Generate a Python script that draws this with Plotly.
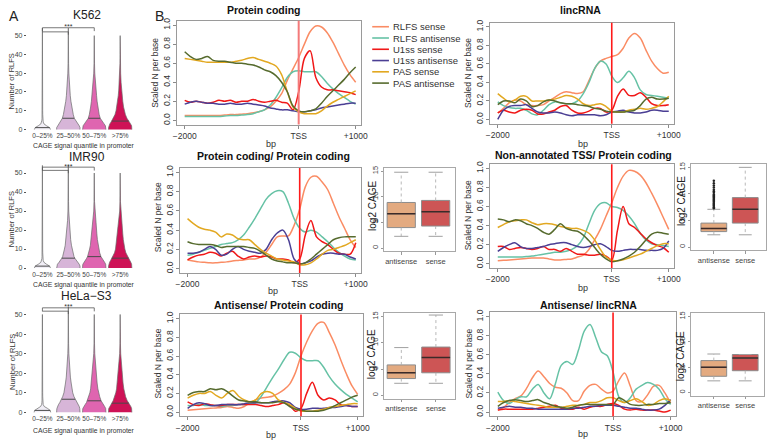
import plotly.graph_objects as go
import numpy as np

W, H = 774, 445
FONT = "Liberation Sans, Arial, Helvetica, sans-serif"


def fx(p):
    return p / W


def fy(p):
    return 1 - p / H


# ---------------- Panel A data (violin half-width profiles) ----------------
CELL_LINES = ["K562", "IMR90", "HeLa−S3"]
QUANTILES = ["0–25%", "25–50%", "50–75%", ">75%"]
VIOLIN_COLORS = ["#F1EEF6", "#D7B5D8", "#DF65B0", "#CE1256"]
VY = [0, 1, 2, 3, 4, 5, 6, 8, 10, 12, 15, 18, 21, 25, 30, 35, 40, 45, 50, 54]

k562_w = [
    [0.31, 0.28, 0.16, 0.06, 0.03, 0.02, 0.015, 0.012, 0.01, 0.01, 0.009, 0.008, 0.008, 0.007, 0.007, 0.006, 0.006, 0.005, 0.005, 0],
    [0.45, 0.45, 0.42, 0.37, 0.32, 0.27, 0.23, 0.19, 0.16, 0.13, 0.1, 0.075, 0.055, 0.035, 0.02, 0.01, 0.007, 0.005, 0.004, 0],
    [0.45, 0.45, 0.43, 0.38, 0.33, 0.27, 0.23, 0.19, 0.16, 0.14, 0.11, 0.09, 0.07, 0.045, 0.02, 0.01, 0.007, 0.004, 0, 0],
    [0.45, 0.45, 0.44, 0.4, 0.35, 0.3, 0.26, 0.2, 0.16, 0.13, 0.1, 0.075, 0.055, 0.035, 0.018, 0.01, 0.006, 0.003, 0, 0],
]
imr90_w = [
    [0.31, 0.28, 0.16, 0.06, 0.03, 0.02, 0.015, 0.012, 0.01, 0.01, 0.009, 0.008, 0.008, 0.007, 0.007, 0.006, 0.006, 0.005, 0.004, 0],
    [0.45, 0.45, 0.42, 0.36, 0.3, 0.26, 0.22, 0.18, 0.15, 0.12, 0.09, 0.07, 0.05, 0.03, 0.015, 0.008, 0.006, 0.005, 0.004, 0],
    [0.45, 0.45, 0.44, 0.4, 0.35, 0.3, 0.26, 0.21, 0.18, 0.15, 0.12, 0.1, 0.08, 0.05, 0.02, 0.01, 0.007, 0.004, 0, 0],
    [0.45, 0.45, 0.44, 0.41, 0.37, 0.33, 0.28, 0.22, 0.18, 0.15, 0.12, 0.1, 0.08, 0.06, 0.02, 0.01, 0.006, 0.004, 0, 0],
]
hela_w = [
    [0.32, 0.3, 0.2, 0.07, 0.03, 0.02, 0.015, 0.012, 0.01, 0.01, 0.009, 0.008, 0.008, 0.007, 0.007, 0.006, 0.006, 0.005, 0, 0],
    [0.45, 0.45, 0.44, 0.42, 0.38, 0.33, 0.28, 0.22, 0.17, 0.14, 0.11, 0.08, 0.06, 0.04, 0.02, 0.01, 0.007, 0.005, 0.004, 0],
    [0.45, 0.45, 0.44, 0.4, 0.35, 0.3, 0.26, 0.21, 0.17, 0.14, 0.11, 0.09, 0.07, 0.05, 0.02, 0.01, 0.006, 0.003, 0, 0],
    [0.45, 0.45, 0.44, 0.41, 0.36, 0.31, 0.27, 0.21, 0.17, 0.14, 0.11, 0.09, 0.07, 0.05, 0.02, 0.01, 0.006, 0.002, 0, 0],
]
k562_med = [1.0, 6.0, 6.0, 4.5]
imr90_med = [1.0, 5.2, 6.0, 5.2]
hela_med = [1.0, 6.7, 5.9, 4.7]
SIG_TOP = [54.2, 53.1, 53.4]
SIG_LOW = [52.0, 51.4, 51.7]
SIG_STAR = [54.5, 53.2, 53.5]

# ---------------- Panel B data (metaprofiles) ----------------
BP = list(range(-2000, 1001, 100))
SERIES = ["RLFS sense", "RLFS antisense", "U1ss sense", "U1ss antisense", "PAS sense", "PAS antisense"]
COLORS = ["#FA8C64", "#66C2A5", "#F01818", "#4B3F94", "#E2A821", "#566B2E"]
X_TICKS = [-2000, 0, 1000]
X_TICKTEXT = ["−2000", "TSS", "+1000"]

# Protein coding
p1_rlfs_s = [0.05, 0.05, 0.05, 0.05, 0.05, 0.05, 0.05, 0.055, 0.06, 0.06, 0.065, 0.07, 0.08, 0.09, 0.11, 0.14, 0.2, 0.28, 0.42, 0.54, 0.66, 0.80, 0.93, 0.99, 0.98, 0.92, 0.82, 0.70, 0.58, 0.48, 0.40]
p1_rlfs_a = [0.04, 0.04, 0.04, 0.04, 0.04, 0.04, 0.04, 0.045, 0.05, 0.05, 0.055, 0.06, 0.07, 0.09, 0.11, 0.16, 0.24, 0.34, 0.45, 0.51, 0.52, 0.51, 0.51, 0.51, 0.46, 0.39, 0.33, 0.28, 0.24, 0.20, 0.17]
p1_u1_s = [0.21, 0.19, 0.2, 0.19, 0.18, 0.19, 0.21, 0.2, 0.21, 0.19, 0.2, 0.2, 0.22, 0.2, 0.19, 0.2, 0.21, 0.19, 0.18, 0.11, 0.3, 0.65, 0.73, 0.45, 0.35, 0.32, 0.32, 0.31, 0.3, 0.29, 0.27]
p1_u1_a = [0.17, 0.19, 0.2, 0.19, 0.18, 0.18, 0.17, 0.17, 0.18, 0.17, 0.17, 0.18, 0.17, 0.16, 0.15, 0.13, 0.12, 0.11, 0.11, 0.1, 0.09, 0.09, 0.1, 0.11, 0.13, 0.14, 0.15, 0.16, 0.17, 0.18, 0.18]
p1_pas_s = [0.65, 0.64, 0.63, 0.62, 0.61, 0.61, 0.61, 0.61, 0.61, 0.62, 0.63, 0.65, 0.66, 0.64, 0.62, 0.6, 0.57, 0.48, 0.3, 0.14, 0.09, 0.07, 0.07, 0.07, 0.1, 0.15, 0.19, 0.22, 0.25, 0.28, 0.31]
p1_pas_a = [0.72, 0.67, 0.64, 0.65, 0.67, 0.63, 0.62, 0.62, 0.61, 0.6, 0.6, 0.59, 0.58, 0.56, 0.53, 0.51, 0.47, 0.4, 0.3, 0.15, 0.1, 0.09, 0.1, 0.12, 0.18, 0.25, 0.31, 0.37, 0.43, 0.5, 0.56]

# lincRNA
p2_rlfs_s = [0.07, 0.12, 0.18, 0.21, 0.2, 0.16, 0.15, 0.15, 0.16, 0.2, 0.24, 0.28, 0.3, 0.29, 0.28, 0.3, 0.42, 0.55, 0.63, 0.66, 0.68, 0.7, 0.77, 0.88, 0.93, 0.88, 0.75, 0.63, 0.55, 0.5, 0.51]
p2_rlfs_a = [0.19, 0.15, 0.13, 0.12, 0.12, 0.1, 0.06, 0.05, 0.1, 0.16, 0.19, 0.18, 0.17, 0.17, 0.2, 0.28, 0.4, 0.55, 0.63, 0.6, 0.47, 0.4, 0.45, 0.52, 0.45, 0.32, 0.27, 0.26, 0.25, 0.24, 0.23]
p2_u1_s = [0.07, 0.1, 0.08, 0.07, 0.1, 0.11, 0.1, 0.06, 0.06, 0.08, 0.1, 0.14, 0.15, 0.1, 0.07, 0.07, 0.09, 0.12, 0.12, 0.08, 0.1, 0.25, 0.33, 0.26, 0.26, 0.29, 0.24, 0.17, 0.15, 0.15, 0.16]
p2_u1_a = [0.0, 0.1, 0.14, 0.15, 0.15, 0.16, 0.12, 0.08, 0.07, 0.07, 0.08, 0.07, 0.05, 0.04, 0.05, 0.05, 0.05, 0.05, 0.04, 0.05, 0.08, 0.09, 0.1, 0.08, 0.07, 0.07, 0.08, 0.1, 0.1, 0.09, 0.09]
p2_pas_s = [0.28, 0.23, 0.19, 0.21, 0.25, 0.25, 0.2, 0.2, 0.2, 0.21, 0.22, 0.24, 0.26, 0.25, 0.22, 0.17, 0.15, 0.16, 0.17, 0.14, 0.09, 0.08, 0.08, 0.1, 0.11, 0.12, 0.11, 0.12, 0.14, 0.19, 0.25]
p2_pas_a = [0.16, 0.2, 0.2, 0.18, 0.22, 0.2, 0.14, 0.15, 0.19, 0.21, 0.2, 0.18, 0.17, 0.17, 0.16, 0.15, 0.14, 0.12, 0.11, 0.09, 0.08, 0.08, 0.08, 0.09, 0.1, 0.15, 0.22, 0.24, 0.22, 0.22, 0.23]

# Protein coding / Protein coding
p3_rlfs_s = [0.09, 0.08, 0.07, 0.065, 0.06, 0.06, 0.065, 0.07, 0.08, 0.085, 0.09, 0.1, 0.1, 0.12, 0.17, 0.25, 0.33, 0.34, 0.34, 0.45, 0.62, 0.85, 0.95, 0.96, 0.9, 0.82, 0.68, 0.54, 0.42, 0.3, 0.22]
p3_rlfs_a = [0.14, 0.15, 0.17, 0.19, 0.21, 0.23, 0.25, 0.26, 0.27, 0.3, 0.35, 0.43, 0.52, 0.62, 0.72, 0.78, 0.81, 0.8, 0.68, 0.52, 0.42, 0.38, 0.4, 0.38, 0.33, 0.28, 0.22, 0.17, 0.13, 0.1, 0.09]
p3_u1_s = [0.09, 0.12, 0.14, 0.15, 0.17, 0.16, 0.13, 0.16, 0.18, 0.13, 0.1, 0.12, 0.13, 0.12, 0.13, 0.12, 0.1, 0.1, 0.09, 0.06, 0.1, 0.35, 0.5, 0.33, 0.28, 0.25, 0.2, 0.16, 0.15, 0.15, 0.27]
p3_u1_a = [0.16, 0.16, 0.17, 0.2, 0.23, 0.2, 0.14, 0.15, 0.2, 0.23, 0.2, 0.18, 0.17, 0.16, 0.2, 0.3, 0.37, 0.4, 0.3, 0.1, 0.05, 0.06, 0.08, 0.12, 0.15, 0.16, 0.16, 0.15, 0.15, 0.12, 0.1]
p3_pas_s = [0.52, 0.47, 0.43, 0.41, 0.4, 0.38, 0.33, 0.36, 0.35, 0.31, 0.3, 0.3, 0.25, 0.2, 0.16, 0.13, 0.1, 0.09, 0.08, 0.07, 0.04, 0.04, 0.06, 0.1, 0.15, 0.19, 0.2, 0.22, 0.24, 0.27, 0.3]
p3_pas_a = [0.28, 0.26, 0.25, 0.25, 0.25, 0.24, 0.22, 0.23, 0.23, 0.23, 0.23, 0.22, 0.21, 0.18, 0.14, 0.1, 0.08, 0.07, 0.06, 0.06, 0.05, 0.06, 0.1, 0.15, 0.2, 0.25, 0.3, 0.32, 0.33, 0.33, 0.33]

# Non-annotated TSS / Protein coding
p4_rlfs_s = [0.03, 0.035, 0.04, 0.045, 0.05, 0.055, 0.06, 0.06, 0.06, 0.05, 0.04, 0.04, 0.045, 0.05, 0.07, 0.09, 0.15, 0.25, 0.36, 0.5, 0.64, 0.8, 0.92, 0.98, 0.97, 0.93, 0.85, 0.74, 0.62, 0.49, 0.36]
p4_rlfs_a = [0.07, 0.07, 0.07, 0.07, 0.07, 0.075, 0.08, 0.09, 0.1, 0.11, 0.12, 0.12, 0.13, 0.15, 0.19, 0.27, 0.42, 0.56, 0.63, 0.64, 0.6, 0.59, 0.56, 0.5, 0.42, 0.32, 0.25, 0.21, 0.2, 0.19, 0.18]
p4_u1_s = [0.18, 0.18, 0.15, 0.16, 0.17, 0.16, 0.15, 0.16, 0.18, 0.15, 0.15, 0.13, 0.16, 0.13, 0.1, 0.1, 0.09, 0.09, 0.1, 0.08, 0.04, 0.35, 0.6, 0.42, 0.38, 0.32, 0.26, 0.22, 0.19, 0.17, 0.12]
p4_u1_a = [0.13, 0.17, 0.2, 0.22, 0.18, 0.16, 0.16, 0.17, 0.18, 0.2, 0.21, 0.22, 0.22, 0.2, 0.18, 0.17, 0.18, 0.2, 0.21, 0.18, 0.14, 0.13, 0.14, 0.15, 0.15, 0.15, 0.14, 0.14, 0.14, 0.16, 0.24]
p4_pas_s = [0.38, 0.41, 0.44, 0.45, 0.46, 0.46, 0.43, 0.41, 0.42, 0.42, 0.41, 0.39, 0.38, 0.37, 0.37, 0.35, 0.32, 0.25, 0.15, 0.07, 0.04, 0.03, 0.04, 0.06, 0.08, 0.1, 0.13, 0.16, 0.19, 0.21, 0.21]
p4_pas_a = [0.47, 0.46, 0.44, 0.46, 0.45, 0.42, 0.4, 0.37, 0.33, 0.31, 0.36, 0.42, 0.37, 0.35, 0.34, 0.3, 0.24, 0.17, 0.1, 0.05, 0.02, 0.03, 0.05, 0.08, 0.12, 0.18, 0.25, 0.31, 0.33, 0.32, 0.31]

# Antisense / Protein coding
p5_rlfs_s = [0.02, 0.025, 0.03, 0.035, 0.04, 0.045, 0.05, 0.06, 0.05, 0.04, 0.06, 0.1, 0.13, 0.15, 0.16, 0.17, 0.2, 0.24, 0.3, 0.42, 0.6, 0.75, 0.87, 0.95, 0.96, 0.85, 0.72, 0.56, 0.41, 0.28, 0.19]
p5_rlfs_a = [0.07, 0.07, 0.08, 0.07, 0.07, 0.07, 0.06, 0.07, 0.07, 0.08, 0.08, 0.09, 0.1, 0.17, 0.27, 0.37, 0.46, 0.56, 0.64, 0.63, 0.58, 0.55, 0.55, 0.55, 0.48, 0.38, 0.3, 0.24, 0.19, 0.15, 0.11]
p5_u1_s = [0.11, 0.08, 0.07, 0.09, 0.08, 0.07, 0.07, 0.08, 0.08, 0.08, 0.08, 0.08, 0.08, 0.07, 0.06, 0.07, 0.08, 0.1, 0.07, 0.01, 0.04, 0.2, 0.32, 0.18, 0.13, 0.15, 0.13, 0.08, 0.07, 0.06, 0.06]
p5_u1_a = [0.04, 0.08, 0.1, 0.09, 0.07, 0.07, 0.08, 0.08, 0.08, 0.08, 0.09, 0.1, 0.1, 0.1, 0.1, 0.11, 0.12, 0.12, 0.1, 0.05, 0.03, 0.03, 0.04, 0.04, 0.04, 0.05, 0.05, 0.06, 0.07, 0.06, 0.06]
p5_pas_s = [0.15, 0.18, 0.2, 0.2, 0.22, 0.18, 0.15, 0.2, 0.23, 0.17, 0.13, 0.11, 0.13, 0.2, 0.22, 0.2, 0.13, 0.1, 0.08, 0.04, 0.01, 0.01, 0.01, 0.02, 0.03, 0.05, 0.06, 0.07, 0.08, 0.09, 0.09]
p5_pas_a = [0.18, 0.21, 0.22, 0.22, 0.25, 0.24, 0.25, 0.22, 0.17, 0.13, 0.12, 0.11, 0.11, 0.1, 0.1, 0.1, 0.11, 0.1, 0.06, 0.03, 0.02, 0.01, 0.01, 0.01, 0.02, 0.04, 0.07, 0.1, 0.13, 0.16, 0.18]

# Antisense / lincRNA
p6_rlfs_s = [0.02, 0.05, 0.1, 0.14, 0.17, 0.25, 0.36, 0.43, 0.37, 0.3, 0.26, 0.25, 0.2, 0.12, 0.12, 0.22, 0.28, 0.29, 0.24, 0.2, 0.22, 0.33, 0.41, 0.27, 0.12, 0.11, 0.18, 0.27, 0.28, 0.2, 0.09]
p6_rlfs_a = [0.21, 0.12, 0.09, 0.13, 0.16, 0.16, 0.24, 0.29, 0.2, 0.14, 0.3, 0.49, 0.53, 0.5, 0.65, 0.85, 0.92, 0.78, 0.63, 0.59, 0.42, 0.16, 0.1, 0.15, 0.24, 0.28, 0.31, 0.29, 0.24, 0.14, 0.08]
p6_u1_s = [0.02, 0.03, 0.03, 0.03, 0.03, 0.03, 0.03, 0.04, 0.05, 0.06, 0.07, 0.04, 0.03, 0.03, 0.05, 0.03, 0.05, 0.06, 0.06, 0.08, 0.09, 0.07, 0.03, 0.02, 0.03, 0.02, 0.02, 0.02, 0.01, 0.0, 0.02]
p6_u1_a = [0.04, 0.05, 0.06, 0.05, 0.05, 0.04, 0.04, 0.03, 0.03, 0.03, 0.03, 0.03, 0.03, 0.04, 0.04, 0.05, 0.06, 0.06, 0.07, 0.07, 0.07, 0.06, 0.05, 0.04, 0.04, 0.03, 0.02, 0.02, 0.03, 0.07, 0.13]
p6_pas_s = [0.11, 0.11, 0.12, 0.11, 0.1, 0.09, 0.08, 0.07, 0.06, 0.05, 0.05, 0.05, 0.06, 0.07, 0.07, 0.08, 0.1, 0.1, 0.12, 0.15, 0.15, 0.12, 0.1, 0.12, 0.14, 0.11, 0.07, 0.08, 0.12, 0.14, 0.12]
p6_pas_a = [0.06, 0.1, 0.12, 0.13, 0.12, 0.11, 0.12, 0.13, 0.1, 0.08, 0.06, 0.05, 0.04, 0.05, 0.07, 0.08, 0.08, 0.08, 0.08, 0.08, 0.08, 0.15, 0.12, 0.08, 0.07, 0.07, 0.08, 0.08, 0.09, 0.09, 0.1]

PANEL_TITLES = ["Protein coding", "lincRNA", "Protein coding/ Protein coding",
                "Non-annotated TSS/ Protein coding", "Antisense/ Protein coding", "Antisense/ lincRNA"]
PANEL_SERIES = [
    [p1_rlfs_s, p1_rlfs_a, p1_u1_s, p1_u1_a, p1_pas_s, p1_pas_a],
    [p2_rlfs_s, p2_rlfs_a, p2_u1_s, p2_u1_a, p2_pas_s, p2_pas_a],
    [p3_rlfs_s, p3_rlfs_a, p3_u1_s, p3_u1_a, p3_pas_s, p3_pas_a],
    [p4_rlfs_s, p4_rlfs_a, p4_u1_s, p4_u1_a, p4_pas_s, p4_pas_a],
    [p5_rlfs_s, p5_rlfs_a, p5_u1_s, p5_u1_a, p5_pas_s, p5_pas_a],
    [p6_rlfs_s, p6_rlfs_a, p6_u1_s, p6_u1_a, p6_pas_s, p6_pas_a],
]

# ---------------- Boxplot data (log2 CAGE) ----------------
BOX_GROUPS = ["antisense", "sense"]
BOX_COLORS = ["#E3AA80", "#CD5555"]
box_q1 = [[4.0, 4.3], [2.9, 4.5], [3.2, 4.3], [3.2, 4.3]]
box_med = [[6.7, 7.1], [3.5, 7.1], [4.3, 7.2], [5.0, 6.8]]
box_q3 = [[8.9, 9.3], [4.5, 9.3], [5.8, 9.2], [6.3, 7.5]]
box_lo = [[2.3, 2.3], [2.3, 2.3], [2.3, 2.3], [2.3, 2.3]]
box_hi = [[14.8, 14.8], [7.1, 15.0], [9.1, 15.3], [7.6, 7.5]]
nonannot_antisense_outliers = [7.3, 7.5, 7.7, 7.9, 8.1, 8.3, 8.5, 8.7, 8.9, 9.1, 9.3, 9.5,
                               9.7, 9.9, 10.2, 10.5, 10.8, 11.2, 11.6, 12.0, 12.5]

# ---------------- Layout geometry (pixels) ----------------
A_BOX = [(22.2, 132.8, 17.8, 129.1), (22.2, 132.8, 156.6, 269.2), (22.2, 132.8, 299.2, 415.2)]
P_BOX = [(175, 362, 18, 123), (493, 680, 20, 122), (178, 362, 167, 273),
         (493, 680, 163, 268), (178, 364, 315, 418), (493, 682, 313, 418)]
B_BOX = [(385, 457, 167, 251), (697, 773, 163, 250), (385, 457, 314, 400), (697, 771, 314, 397)]
B_XR = [[0.5, 2.56], [0.28, 2.66], [0.5, 2.55], [0.28, 2.6]]

fig = go.Figure()
layout = {}
shapes = []
annotations = []


def ann(text, x, y, size, rot=0, bold=False, xanchor="center", color="#222222"):
    annotations.append(dict(
        text=f"<b>{text}</b>" if bold else text, x=fx(x), y=fy(y), xref="paper", yref="paper",
        showarrow=False, textangle=rot, xanchor=xanchor, yanchor="middle",
        font=dict(size=size, color=color, family=FONT)))


def set_axes(n, box, xr, yr):
    l, r, t, b = box
    layout[f"xaxis{n}"] = dict(domain=[fx(l), fx(r)], range=xr, anchor=f"y{n}")
    layout[f"yaxis{n}"] = dict(domain=[fy(b), fy(t)], range=yr, anchor=f"x{n}")


# ---------------- Panel A ----------------
widths_all = [k562_w, imr90_w, hela_w]
meds_all = [k562_med, imr90_med, hela_med]
a_titles_y = [12, 156, 296.5]
a_xtitle_y = [145, 285, 432.5]
for c in range(3):
    n = c + 1
    set_axes(n, A_BOX[c], [0.4, 4.6], [-0.6, 58])
    layout[f"xaxis{n}"].update(tickvals=[1, 2, 3, 4], ticktext=QUANTILES, ticks="",
                               tickangle=0, showline=False, showgrid=False,
                               zeroline=False, tickfont=dict(size=6.5, color="#444", family=FONT))
    layout[f"yaxis{n}"].update(tickvals=[0, 10, 20, 30, 40, 50], ticks="outside", ticklen=2,
                               tickcolor="#555", showline=False, showgrid=False, zeroline=False,
                               tickfont=dict(size=7, color="#444", family=FONT))
    for i in range(4):
        w = np.array(widths_all[c][i], dtype=float)
        yv = np.array(VY, dtype=float)
        zero = np.where(w <= 0)[0]
        end = zero[0] + 1 if len(zero) else len(w)
        w, yv = w[:end], yv[:end]
        xs = np.concatenate([i + 1 + w, (i + 1 - w)[::-1]])
        ys = np.concatenate([yv, yv[::-1]])
        fig.add_trace(go.Scatter(x=xs, y=ys, mode="lines", fill="toself", fillcolor=VIOLIN_COLORS[i],
                                 line=dict(color="#6a6a6a", width=0.7), xaxis=f"x{n}", yaxis=f"y{n}",
                                 showlegend=False, hoverinfo="skip"))
        m = meds_all[c][i]
        wm = float(np.interp(m, VY, widths_all[c][i]))
        fig.add_trace(go.Scatter(x=[i + 1 - wm, i + 1 + wm], y=[m, m], mode="lines",
                                 line=dict(color="#4a4a4a", width=1), xaxis=f"x{n}", yaxis=f"y{n}",
                                 showlegend=False, hoverinfo="skip"))
    t, lo = SIG_TOP[c], SIG_LOW[c]
    fig.add_trace(go.Scatter(x=[1, 1, 3, 3, None, 1, 2, 2], y=[t - 1.8, t, t, t - 1.8, None, lo, lo, lo - 1.5],
                             mode="lines", line=dict(color="#555", width=0.8), xaxis=f"x{n}", yaxis=f"y{n}",
                             showlegend=False, hoverinfo="skip"))
    fig.add_trace(go.Scatter(x=[2], y=[SIG_STAR[c]], mode="text", text=["***"], textposition="middle center",
                             textfont=dict(size=7, color="#333", family=FONT), xaxis=f"x{n}", yaxis=f"y{n}",
                             showlegend=False, hoverinfo="skip", cliponaxis=False))
    ann(CELL_LINES[c], 83, a_titles_y[c], 12)
    ann("CAGE signal quantile in promoter", 80, a_xtitle_y[c], 6.8, color="#333")
    ycen = (A_BOX[c][2] + A_BOX[c][3]) / 2 + 6
    ann("Number of RLFS", 7, ycen, 7.5, rot=-90, color="#333")

ann("A", 9.5, 13, 14)
ann("B", 157, 13, 14)

# ---------------- Panel B metaprofiles ----------------
title_pos = [(263, 7), (585, 7), (273, 155), (588, 154), (278, 305), (593, 305)]
bp_pos = [(270, 143), (587, 143), (272, 291), (587, 288), (270, 437), (587, 436)]
ylab_pos = [(153, 71), (470, 71), (155, 217), (470, 215), (155, 365), (471, 365)]
for k in range(6):
    n = 4 + k
    set_axes(n, P_BOX[k], [-2130, 1100], [-0.045, 1.045])
    axis_common = dict(showline=True, mirror=True, linecolor="#9a9a9a", linewidth=1, ticks="outside",
                       ticklen=3, tickcolor="#8a8a8a", showgrid=False, zeroline=False,
                       tickfont=dict(size=8.5, color="#333", family=FONT))
    layout[f"xaxis{n}"].update(tickvals=X_TICKS, ticktext=X_TICKTEXT, tickangle=0, **axis_common)
    layout[f"yaxis{n}"].update(tickvals=[0, 0.2, 0.4, 0.6, 0.8, 1.0], tickformat=".1f", tickangle=-90,
                               **axis_common)
    for name, col, vals in zip(SERIES, COLORS, PANEL_SERIES[k]):
        fig.add_trace(go.Scatter(x=BP, y=vals, mode="lines", name=name,
                                 line=dict(color=col, width=1.5, shape="spline", smoothing=0.9),
                                 xaxis=f"x{n}", yaxis=f"y{n}", showlegend=False, hoverinfo="skip"))
    tss_col = "#F47A7A" if k == 0 else "#FF1A1A"
    shapes.append(dict(type="line", xref=f"x{n}", yref=f"y{n} domain", x0=0, x1=0, y0=0, y1=1,
                       line=dict(color=tss_col, width=2 if k == 0 else 1.6), layer="above"))
    ann(PANEL_TITLES[k], title_pos[k][0], title_pos[k][1], 10.5, bold=True, color="#111")
    ann("bp", bp_pos[k][0], bp_pos[k][1], 9, color="#333")
    ann("Scaled N per base", ylab_pos[k][0], ylab_pos[k][1], 8.5, rot=-90, color="#333")

# legend (top-left panel)
for i, (name, col) in enumerate(zip(SERIES, COLORS)):
    yy = 24 + i * 11.4
    shapes.append(dict(type="line", xref="paper", yref="paper", x0=fx(373), x1=fx(390), y0=fy(yy), y1=fy(yy),
                       line=dict(color=col, width=1.6)))
    ann(name, 392, yy, 9.5, xanchor="left", color="#333")

# ---------------- Boxplots ----------------
logcage_pos = [(373, 205), (687, 200), (372, 355), (687, 357)]
for b in range(4):
    n = 10 + b
    set_axes(n, B_BOX[b], B_XR[b], [-0.6, 15.6])
    axis_common = dict(showline=True, mirror=True, linecolor="#a8a8a8", linewidth=1, ticks="outside",
                       ticklen=2.5, tickcolor="#999", showgrid=False, zeroline=False,
                       tickfont=dict(size=7.5, color="#444", family=FONT))
    layout[f"xaxis{n}"].update(tickvals=[1, 2], ticktext=BOX_GROUPS, tickangle=0, **axis_common)
    layout[f"yaxis{n}"].update(tickvals=[0, 5, 10, 15], tickangle=-90, **axis_common)
    bw = 0.82
    for g in range(2):
        pos = g + 1
        q1, md, q3 = box_q1[b][g], box_med[b][g], box_q3[b][g]
        lo, hi = box_lo[b][g], box_hi[b][g]
        fig.add_trace(go.Scatter(x=[pos, pos, None, pos, pos], y=[q3, hi, None, q1, lo], mode="lines",
                                 line=dict(color="#b0b0b0", width=0.9, dash="dot"),
                                 xaxis=f"x{n}", yaxis=f"y{n}", showlegend=False, hoverinfo="skip"))
        fig.add_trace(go.Scatter(x=[pos - bw / 4, pos + bw / 4, None, pos - bw / 4, pos + bw / 4],
                                 y=[hi, hi, None, lo, lo], mode="lines",
                                 line=dict(color="#a0a0a0", width=1),
                                 xaxis=f"x{n}", yaxis=f"y{n}", showlegend=False, hoverinfo="skip"))
        fig.add_trace(go.Box(x=[pos], q1=[q1], median=[md], q3=[q3], lowerfence=[q1], upperfence=[q3],
                             width=bw, whiskerwidth=0, fillcolor=BOX_COLORS[g],
                             line=dict(color="#8c8c8c", width=1), xaxis=f"x{n}", yaxis=f"y{n}",
                             showlegend=False, hoverinfo="skip", boxpoints=False))
        fig.add_trace(go.Scatter(x=[pos - bw / 2, pos + bw / 2], y=[md, md], mode="lines",
                                 line=dict(color="#3b2a28", width=1.5),
                                 xaxis=f"x{n}", yaxis=f"y{n}", showlegend=False, hoverinfo="skip"))
    if b == 1:
        fig.add_trace(go.Scatter(x=[1] * len(nonannot_antisense_outliers), y=nonannot_antisense_outliers,
                                 mode="markers", marker=dict(color="#222", size=2.5),
                                 xaxis=f"x{n}", yaxis=f"y{n}", showlegend=False, hoverinfo="skip"))
    ann("log2 CAGE", logcage_pos[b][0], logcage_pos[b][1], 10, rot=-90, color="#222")

fig.update_layout(
    width=W, height=H, autosize=False, margin=dict(l=0, r=0, t=0, b=0),
    paper_bgcolor="white", plot_bgcolor="white", showlegend=False,
    font=dict(family=FONT, color="#333"),
    shapes=shapes, annotations=annotations, **layout)

fig.write_html("out.html", config={"displayModeBar": False},
               post_script="document.body.style.margin='0px';")
